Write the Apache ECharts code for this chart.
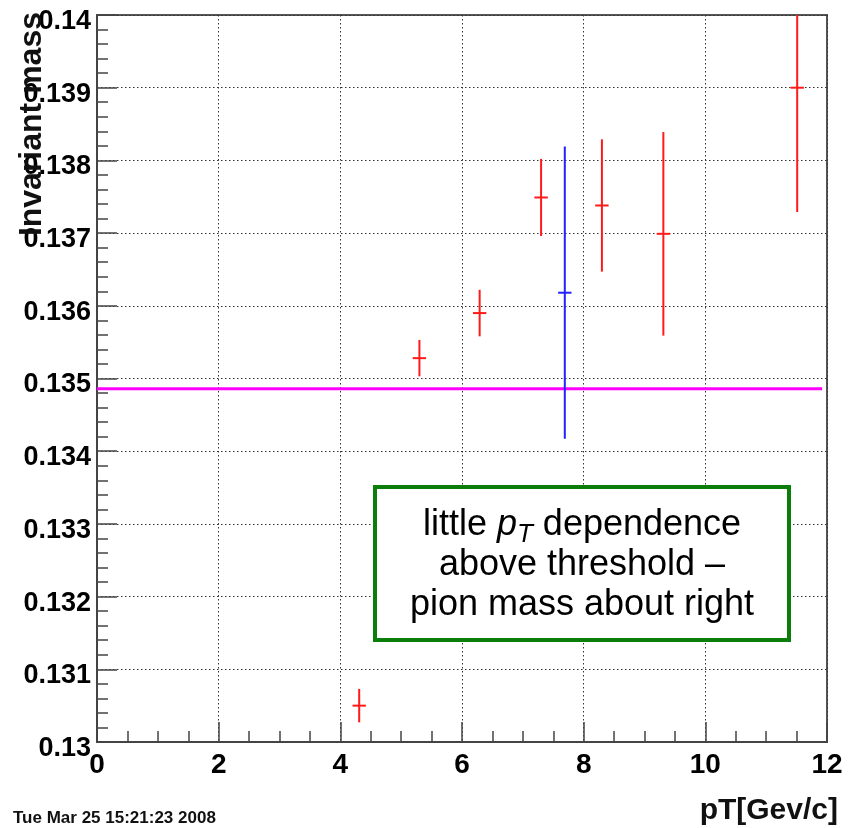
<!DOCTYPE html>
<html>
<head>
<meta charset="utf-8">
<script src="https://cdn.jsdelivr.net/npm/echarts@6/dist/echarts.min.js"></script>
<style>
html,body{margin:0;padding:0;background:#fff;}
#chart{width:856px;height:828px;}
</style>
</head>
<body>
<div id="chart"></div>
<script>
// ---- data ----
var redX   = [4.31, 5.30, 6.29, 7.30, 8.30, 9.31, 11.51];
var redY   = [0.13050, 0.13528, 0.13590, 0.13749, 0.13738, 0.13699, 0.13900];
var redErr = [0.00023, 0.00025, 0.00032, 0.00053, 0.00091, 0.00140, 0.00171];
var blueX   = [7.69];
var blueY   = [0.13618];
var blueErr = [0.00201];
var xErr = 0.11;
var pionMassLineX = [0, 11.92];
var pionMassLineY = [0.13486, 0.13486];
var xTicks = [0, 2, 4, 6, 8, 10, 12];
var yTicks = ['0.13','0.131','0.132','0.133','0.134','0.135','0.136','0.137','0.138','0.139','0.14'];

var FONT = '"Liberation Sans", Arial, Helvetica, sans-serif';

function toRows(xs, ys, es) {
  return xs.map(function (x, i) { return [x, ys[i], es[i]]; });
}

function errRender(color) {
  return function (params, api) {
    var x = api.value(0), y = api.value(1), e = api.value(2);
    var top = api.coord([x, y + e]);
    var bot = api.coord([x, y - e]);
    var left = api.coord([x - xErr, y]);
    var right = api.coord([x + xErr, y]);
    var st = { stroke: color, lineWidth: 2 };
    return {
      type: 'group',
      children: [
        { type: 'line', shape: { x1: top[0], y1: top[1], x2: bot[0], y2: bot[1] }, style: st },
        { type: 'line', shape: { x1: left[0], y1: left[1], x2: right[0], y2: right[1] }, style: st }
      ]
    };
  };
}

var chart = echarts.init(document.getElementById('chart'), null, { renderer: 'canvas' });

var axisColor = '#444';
var option = {
  animation: false,
  backgroundColor: '#fff',
  grid: {
    left: 97, top: 15, right: 29, bottom: 86,
    show: true, borderColor: '#555', borderWidth: 2,
    containLabel: false, outerBoundsMode: 'none'
  },
  xAxis: {
    type: 'value', min: xTicks[0], max: xTicks[xTicks.length - 1], interval: 2,
    axisLine: { show: true, onZero: false, lineStyle: { color: axisColor, width: 2 } },
    axisTick: { show: true, inside: true, length: 20, lineStyle: { color: axisColor, width: 1.5 } },
    minorTick: { show: true, splitNumber: 4, length: 11, lineStyle: { color: axisColor, width: 1.5 } },
    splitLine: { show: true, lineStyle: { color: '#333', width: 1, type: [1.5, 2.5] } },
    axisLabel: { color: '#000', fontFamily: FONT, fontWeight: 'bold', fontSize: 28, margin: 9 }
  },
  yAxis: {
    type: 'value', min: 0.13, max: 0.14, interval: 0.001,
    axisLine: { show: true, onZero: false, lineStyle: { color: axisColor, width: 2 } },
    axisTick: { show: true, inside: true, length: 20, lineStyle: { color: axisColor, width: 1.5 } },
    minorTick: { show: true, splitNumber: 5, length: 11, lineStyle: { color: axisColor, width: 1.5 } },
    splitLine: { show: true, lineStyle: { color: '#333', width: 1, type: [1.5, 2.5] } },
    axisLabel: {
      color: '#000', fontFamily: FONT, fontWeight: 'bold', fontSize: 27, margin: 6,
      formatter: function (v) {
        var idx = Math.round((v - 0.13) / 0.001);
        return yTicks[idx] !== undefined ? '{a|' + yTicks[idx] + '}' : '';
      },
      rich: {
        a: { color: '#000', fontFamily: FONT, fontWeight: 'bold', fontSize: 27, lineHeight: 27, padding: [13, 0, 0, 0] }
      }
    }
  },
  series: [
    {
      type: 'line', data: pionMassLineX.map(function (x, i) { return [x, pionMassLineY[i]]; }),
      symbol: 'none', lineStyle: { color: '#ff00ff', width: 3 }, z: 3, silent: true
    },
    {
      type: 'custom', data: toRows(redX, redY, redErr), renderItem: errRender('#ff1a1a'),
      clip: true, z: 4, silent: true
    },
    {
      type: 'custom', data: toRows(blueX, blueY, blueErr), renderItem: errRender('#2222ff'),
      clip: true, z: 5, silent: true
    }
  ],
  graphic: [
    {
      type: 'text', x: 48, y: 12, rotation: Math.PI / 2, z: 10,
      style: { text: 'Invariant mass', fill: '#111', font: 'bold 32px ' + FONT, textAlign: 'right', textVerticalAlign: 'bottom' }
    },
    {
      type: 'text', x: 838, y: 826, z: 10,
      style: { text: 'pT[Gev/c]', fill: '#111', font: 'bold 30px ' + FONT, textAlign: 'right', textVerticalAlign: 'bottom' }
    },
    {
      type: 'text', x: 13, y: 827, z: 10,
      style: { text: 'Tue Mar 25 15:21:23 2008', fill: '#111', font: 'bold 17px ' + FONT, textAlign: 'left', textVerticalAlign: 'bottom' }
    },
    {
      type: 'rect', shape: { x: 375, y: 487, width: 414, height: 153 }, z: 20,
      style: { fill: '#fff', stroke: '#0a7d0a', lineWidth: 4 }
    },
    {
      type: 'text', x: 582, y: 565, z: 21,
      style: {
        text: 'little {i|p}{s|T} dependence\nabove threshold –\npion mass about right',
        textAlign: 'center', textVerticalAlign: 'middle',
        font: '36px ' + FONT, fill: '#000', lineHeight: 40,
        rich: {
          i: { font: 'italic 36px ' + FONT, fill: '#000', lineHeight: 40 },
          s: { font: 'italic 26px ' + FONT, fill: '#000', padding: [20, 0, 0, 0], lineHeight: 40 }
        }
      }
    }
  ]
};
chart.setOption(option);
</script>
</body>
</html>
